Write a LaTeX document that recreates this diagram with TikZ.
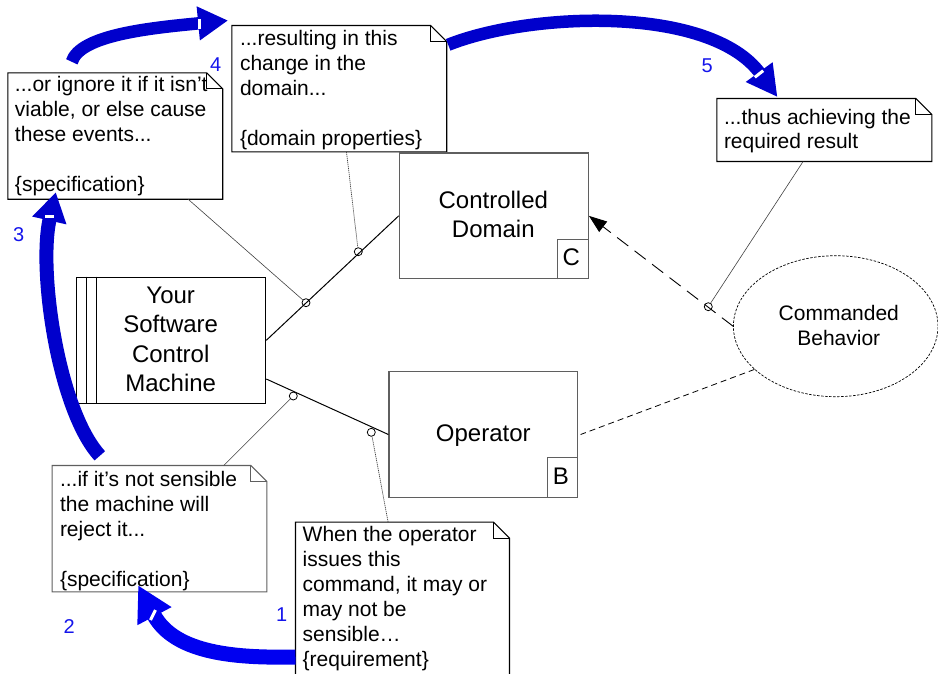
\documentclass[tikz,border=0pt]{standalone}
\usepackage{fontspec}
\setmainfont{Liberation Sans}
\usetikzlibrary{arrows.meta,calc,shapes.geometric}
\definecolor{arrblue}{RGB}{0,0,204}
\definecolor{arrblueb}{RGB}{0,0,240}
\definecolor{numblue}{RGB}{20,20,235}
\definecolor{bdgray}{RGB}{95,95,95}
\newcommand\notefnt{\fontsize{21}{25}\selectfont}
\newcommand\boxfnt{\fontsize{24}{29.3}\selectfont}
\newcommand\numfnt{\fontsize{20}{24}\selectfont}
\newcommand\drawnote[2]{%
  \draw[line width=1.1pt, draw=#2, fill=white] (#1.north west) -- ($(#1.north east)+(-16,0)$) -- ($(#1.north east)+(0,16)$) -- (#1.south east) -- (#1.south west) -- cycle;
  \draw[line width=0.9pt, draw=#2] ($(#1.north east)+(-16,0)$) -- ($(#1.north east)+(-16,16)$) -- ($(#1.north east)+(0,16)$);}
\begin{document}
\begin{tikzpicture}[x=1pt,y=-1pt,
  frame/.style={rectangle, inner sep=0pt, draw=none},
  boxnode/.style={rectangle, inner sep=0pt, line width=1.2pt, fill=white},
  ntext/.style={inner sep=0pt, align=left, font=\notefnt},
  btext/.style={inner sep=0pt, align=center, font=\boxfnt},
  num/.style={inner sep=0pt, anchor=base, text=numblue, font=\numfnt},
  ring/.style={circle, draw, line width=0.8pt, minimum size=8pt, inner sep=0pt},
  conn/.style={line width=1pt, draw=black},
  linkthin/.style={line width=0.6pt, draw=black!75},
  linkdot/.style={line width=0.7pt, draw=black!75, dash pattern=on 1.2pt off 0.8pt},
  bluearr/.style={draw=arrblue, line cap=butt},
  wmark/.style={draw=white, line width=3pt}]
\useasboundingbox (0,0) rectangle (938,673);
\clip (0,0) rectangle (938,673);

% note frames
\node[frame, minimum width=214.5pt, minimum height=126pt] (n3) at (115.25,136) {};
\node[frame, minimum width=214.5pt, minimum height=126pt] (n4) at (339.25,88.7) {};
\node[frame, minimum width=214.7pt, minimum height=62.6pt] (n5) at (824.35,130) {};
\node[frame, minimum width=214.4pt, minimum height=126pt] (n2) at (159.5,528.7) {};
\node[frame, minimum width=213.6pt, minimum height=177.7pt] (n1) at (402.5,611.15) {};
\drawnote{n3}{black}
\drawnote{n4}{black}
\drawnote{n5}{black}
\drawnote{n2}{bdgray}
\drawnote{n1}{black}

% main boxes
\node[boxnode, draw=bdgray, minimum width=189pt, minimum height=125.7pt] (dom) at (493.8,215.85) {};
\node[boxnode, draw=black, minimum width=189pt, minimum height=126pt] (mach) at (171.2,340.3) {};
\node[boxnode, draw=bdgray, minimum width=188.7pt, minimum height=125.6pt] (op) at (483.35,434.5) {};
\node[ellipse, draw, dash pattern=on 2.5pt off 1.5pt, line width=0.7pt, minimum width=204.6pt, minimum height=141pt, inner sep=0pt] (cb) at (835.7,326.2) {};

\draw[line width=1pt, draw=bdgray] ([xshift=-31pt]dom.south east) |- ([yshift=40pt]dom.south east);
\draw[line width=1pt, draw=bdgray] ([xshift=-31pt]op.south east) |- ([yshift=40pt]op.south east);
\draw[line width=0.9pt] ([xshift=10.6pt]mach.north west) -- ([xshift=10.6pt]mach.south west);
\draw[line width=0.9pt] ([xshift=20.3pt]mach.north west) -- ([xshift=20.3pt]mach.south west);

% connection circles
\node[ring] (c1) at (306,302.7) {};
\node[ring] (c2) at (358.3,251.7) {};
\node[ring] (c3) at (293.3,396) {};
\node[ring] (c4) at (371.3,432.3) {};
\node[ring] (c5) at (708.3,306.7) {};

% connectors
\draw[conn] (mach.east) -- (dom.west);
\draw[conn] ([yshift=-38.7pt]mach.east) -- (op.west);
\draw[line width=0.9pt, dash pattern=on 14pt off 8pt, -{Triangle[length=18pt,width=13pt]}] (cb.west) -- (dom.east);
\draw[line width=0.8pt, dash pattern=on 6pt off 4pt] (cb.208) -- ([xshift=2.3pt]op.east);

% note links
\draw[linkthin] ([xshift=180.3pt]n3.south west) -- (c1);
\draw[linkdot] ([xshift=114.7pt]n4.south west) -- (c2);
\draw[linkthin] ([xshift=171.7pt]n2.north west) -- (c3);
\draw[linkdot] ([xshift=92.6pt]n1.north west) -- (c4);
\draw[linkthin] ([xshift=86.3pt]n5.south west) -- (c5);

% texts
\node[ntext, anchor=north west] (t3) at ($(n3.north west)+(7,0)$) {\rule{0pt}{18.7pt}...or ignore it if it isn’t\\viable, or else cause\\these events...\\\mbox{}\\\{specification\}};
\node[ntext, anchor=north west] (t4) at ($(n4.north west)+(8,0)$) {\rule{0pt}{19.3pt}...resulting in this\\change in the\\domain...\\\mbox{}\\\{domain properties\}};
\node[ntext, anchor=north west, font=\fontsize{21}{24}\selectfont] (t5) at ($(n5.north west)+(7,0)$) {\rule{0pt}{25.6pt}...thus achieving the\\required result};
\node[ntext, anchor=north west] (t2) at ($(n2.north west)+(7.7,0)$) {\rule{0pt}{21pt}...if it’s not sensible\\the machine will\\reject it...\\\mbox{}\\\{specification\}};
\node[ntext, anchor=north west] (t1) at ($(n1.north west)+(7,0)$) {\rule{0pt}{19.4pt}When the operator\\issues this\\command, it may or\\may not be\\sensible…\\\{requirement\}};

\node[btext, anchor=north] (tm) at (170.7,283.3) {\rule{0pt}{20pt}Your\\Software\\Control\\Machine};
\node[btext, anchor=north, font=\fontsize{24}{29}\selectfont] (td) at (493.3,188.3) {\rule{0pt}{20pt}Controlled\\Domain};
\node[btext, anchor=base] (to) at (483.3,441.7) {Operator};
\node[ntext, align=center, anchor=north] (tc) at (838.8,300) {\rule{0pt}{20pt}Commanded\\Behavior};
\node[btext, anchor=base] (tC) at (571.3,265) {C};
\node[btext, anchor=base] (tB) at (560.8,484) {B};

% numbers
\node[num] (l1) at (281.7,621.7) {1};
\node[num] (l2) at (69.3,633.3) {2};
\node[num] (l3) at (18.7,241.7) {3};
\node[num] (l4) at (215.7,71.7) {4};
\node[num] (l5) at (707.2,72.7) {5};

% blue arrows
\draw[bluearr, draw=arrblueb, line width=15pt, -{Triangle[length=35pt,width=36pt]}] ([yshift=-45.85pt]n1.west) .. controls (240,658) and (175,655) .. ($(n2.south west)+(86,-6.7)$);
\draw[bluearr, line width=14pt, -{Triangle[length=29pt,width=33pt]}] ($(n2.north west)+(47.7,-9.7)$) .. controls (58,410) and (38,270) .. ($(n3.south west)+(48,-7)$);
\draw[bluearr, line width=12.5pt, -{Triangle[length=30pt,width=32pt]}] ($(n3.north west)+(64,-11)$) .. controls (80,35) and (150,28) .. ($(n4.north west)+(-3.7,-5)$);
\draw[bluearr, line width=12.5pt, -{Triangle[length=31pt,width=31pt]}] ($(n4.north east)+(1.5,19.3)$) .. controls (530,12) and (710,5) .. ($(n5.north west)+(60.7,-1.4)$);

% white marks on the arrow shafts
\draw[wmark] (150.5,620) -- (155.5,610);
\draw[wmark] (45,216.7) -- (53.5,216.7);
\draw[wmark] (199,19) -- (199,29);
\draw[wmark] (754.8,77.3) -- (763.2,70.7);
\end{tikzpicture}
\end{document}
